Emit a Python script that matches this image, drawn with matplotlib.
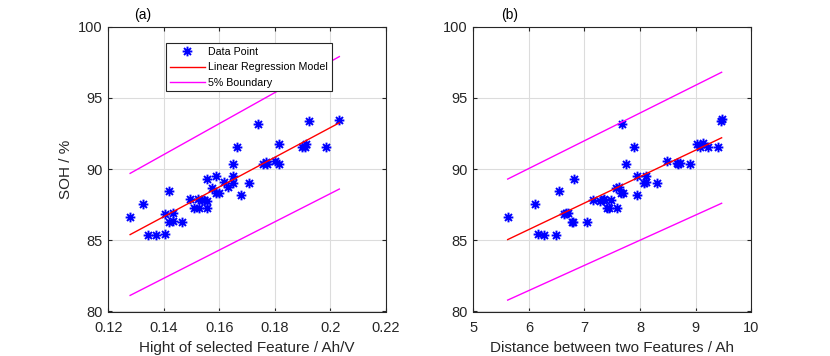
import numpy as np
import matplotlib

matplotlib.use("Agg")
import matplotlib.pyplot as plt
from matplotlib.path import Path

plt.rcParams["font.family"] = ["Liberation Sans", "DejaVu Sans"]

# SOH values (%)
soh_a = [86.64, 87.56, 85.35, 85.35, 85.47, 86.85, 88.45, 86.29, 86.36, 86.92,
         86.29, 87.91, 87.28, 87.88, 87.82, 87.80, 87.28, 89.27, 87.28, 87.75,
         88.64, 89.53, 88.29, 88.29, 89.11, 88.76, 89.53, 88.99, 90.37, 88.19,
         88.99, 90.37, 90.47, 90.37, 90.56, 90.37, 93.19, 93.35, 93.47, 91.55,
         91.73, 91.55, 91.55, 91.75, 91.55]
height_a = [0.1278, 0.1326, 0.1342, 0.1373, 0.1402, 0.1402, 0.1417, 0.1417, 0.1434, 0.1434,
            0.1465, 0.1494, 0.1510, 0.1524, 0.1536, 0.1545, 0.1528, 0.1556, 0.1556, 0.1556,
            0.1574, 0.1586, 0.1586, 0.1600, 0.1616, 0.1632, 0.1648, 0.1648, 0.1648, 0.1678,
            0.1708, 0.1756, 0.1768, 0.1772, 0.1800, 0.1816, 0.1740, 0.1924, 0.2032, 0.1664,
            0.1816, 0.1897, 0.1910, 0.1913, 0.1984]

dist_b = [5.618, 6.11, 6.17, 6.28, 6.48, 6.54, 6.82, 6.67, 6.70, 6.64,
          6.78, 6.79, 7.05, 7.15, 7.28, 7.33, 7.36, 7.41, 7.45, 7.48,
          7.59, 7.56, 7.63, 7.65, 7.69, 7.94, 7.95, 8.10, 8.07, 8.10,
          8.30, 7.74, 8.48, 8.66, 8.69, 8.72, 8.90, 7.683, 9.454, 9.47,
          7.893, 9.02, 9.08, 9.14, 9.23, 9.40]
soh_b = [86.64, 87.56, 85.47, 85.35, 85.35, 88.45, 89.27, 86.92, 86.92, 86.85,
         86.30, 86.30, 86.29, 87.82, 87.77, 87.86, 87.91, 87.28, 87.28, 87.82,
         87.28, 88.64, 88.71, 88.29, 88.29, 88.19, 89.53, 89.53, 89.00, 89.10,
         88.99, 90.37, 90.56, 90.45, 90.37, 90.40, 90.37, 93.19, 93.40, 93.50,
         91.55, 91.73, 91.55, 91.85, 91.55, 91.55]

# regression line and 5% boundary end points
fit_x_a = [0.1278, 0.2032]
fit_y_a = [85.4, 93.25]
upper_a = [89.7, 97.9]
lower_a = [81.13, 88.6]

fit_x_b = [5.618, 9.47]
fit_y_b = [85.05, 92.2]
upper_b = [89.3, 96.8]
lower_b = [80.8, 87.6]

xticks_a = [0.12, 0.14, 0.16, 0.18, 0.2, 0.22]
xticklabels_a = ["0.12", "0.14", "0.16", "0.18", "0.2", "0.22"]
xticks_b = [5, 6, 7, 8, 9, 10]
yticks = [80, 85, 90, 95, 100]

# matlab style '*' marker: plus over cross
d = 0.72
star = Path([(-1, 0), (1, 0), (0, -1), (0, 1), (-d, -d), (d, d), (-d, d), (d, -d)],
            [Path.MOVETO, Path.LINETO] * 4)

fig = plt.figure(figsize=(8.3, 3.56), dpi=100)
ax_a = fig.add_axes([0.1307, 0.125, 0.3343, 0.80])
ax_b = fig.add_axes([0.5703, 0.125, 0.3346, 0.80])


def style_axes(ax):
    ax.set_ylim(80, 100)
    ax.set_yticks(yticks)
    ax.grid(True, color="#dcdcdc", linewidth=0.8)
    ax.set_axisbelow(True)
    ax.tick_params(direction="in", top=True, right=True, labelsize=10.5,
                   length=3, color="#262626", labelcolor="#262626")
    ax.tick_params(axis="x", pad=7)
    ax.tick_params(axis="y", pad=4)
    for s in ax.spines.values():
        s.set_linewidth(0.8)
        s.set_color("#262626")


ax_a.plot(height_a, soh_a, linestyle="none", marker=star, markersize=7,
          markeredgewidth=1.4, color="#0000ff", label="Data Point")
ax_a.plot(fit_x_a, fit_y_a, color="#ff0000", linewidth=1, label="Linear Regression Model")
ax_a.plot(fit_x_a, upper_a, color="#ff00ff", linewidth=1, label="5% Boundary")
ax_a.plot(fit_x_a, lower_a, color="#ff00ff", linewidth=1)
ax_a.set_xlim(0.12, 0.22)
ax_a.set_xticks(xticks_a)
ax_a.set_xticklabels(xticklabels_a)
style_axes(ax_a)
ax_a.set_xlabel("Hight of selected Feature / Ah/V", fontsize=11, color="#262626")
ax_a.set_ylabel("SOH / %", fontsize=11, color="#262626")
ax_a.text(0.124, 1.015, "(a)", transform=ax_a.transAxes, ha="center", va="bottom",
          fontsize=10)
leg = ax_a.legend(loc="upper left", bbox_to_anchor=(0.207, 0.942), fontsize=7.7,
                  frameon=True, fancybox=False, edgecolor="#262626", framealpha=1,
                  handlelength=3.3, borderpad=0.35, labelspacing=0.5,
                  handletextpad=0.3, borderaxespad=0)
leg.get_frame().set_linewidth(0.8)

ax_b.plot(dist_b, soh_b, linestyle="none", marker=star, markersize=7,
          markeredgewidth=1.4, color="#0000ff")
ax_b.plot(fit_x_b, fit_y_b, color="#ff0000", linewidth=1)
ax_b.plot(fit_x_b, upper_b, color="#ff00ff", linewidth=1)
ax_b.plot(fit_x_b, lower_b, color="#ff00ff", linewidth=1)
ax_b.set_xlim(5, 10)
ax_b.set_xticks(xticks_b)
style_axes(ax_b)
ax_b.set_xlabel("Distance between two Features / Ah", fontsize=11, color="#262626")
ax_b.text(0.129, 1.015, "(b)", transform=ax_b.transAxes, ha="center", va="bottom",
          fontsize=10)

fig.savefig("out.png", dpi=100)
